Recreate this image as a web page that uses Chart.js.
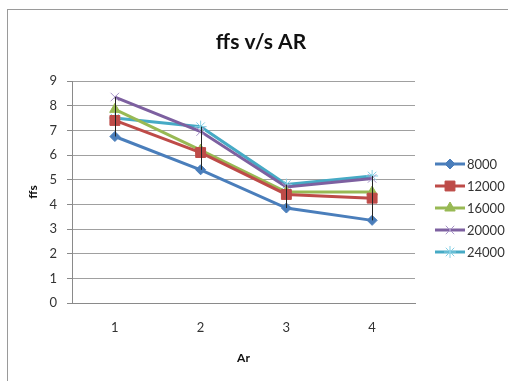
<!DOCTYPE html>
<html>
<head>
<meta charset="utf-8">
<script src="https://cdn.jsdelivr.net/npm/chart.js@4.4.1/dist/chart.umd.min.js"></script>
<style>
  html, body { margin: 0; padding: 0; background: #fff; }
  #wrap { width: 508px; height: 381px; position: relative; }
</style>
</head>
<body>
<div id="wrap"><canvas id="chart" width="508" height="381"></canvas></div>
<script>
// chart data
const categories = ['1', '2', '3', '4'];
const seriesNames = ['8000', '12000', '16000', '20000', '24000'];
const s8000 = [6.75, 5.4, 3.85, 3.35];
const s12000 = [7.4, 6.1, 4.4, 4.25];
const s16000 = [7.85, 6.2, 4.5, 4.5];
const s20000 = [8.35, 6.95, 4.7, 5.05];
const s24000 = [7.5, 7.15, 4.8, 5.15];
const yTicks = [0, 1, 2, 3, 4, 5, 6, 7, 8, 9];
const chartTitle = 'ffs v/s AR';

const FONT = 'Lato, "Open Sans", sans-serif';

const styles = [
  { color: '#4a7ebb', marker: '#4a7ebb', point: 'rectRot', r: 5, bw: 1 },
  { color: '#be4b48', marker: '#be4b48', point: 'rect', r: 7, bw: 1 },
  { color: '#98b954', marker: '#98b954', point: 'triangle', r: 6, bw: 1 },
  { color: '#7d60a0', marker: '#a794c8', point: 'crossRot', r: 6, bw: 1 },
  { color: '#46aac5', marker: '#84cfe4', point: 'star', r: 6, bw: 1 }
];
const values = [s8000, s12000, s16000, s20000, s24000];

const datasets = values.map((data, i) => ({
  label: seriesNames[i],
  data: data,
  borderColor: styles[i].color,
  backgroundColor: styles[i].marker,
  borderWidth: 3,
  pointStyle: styles[i].point,
  pointRadius: styles[i].r,
  pointBorderColor: styles[i].marker,
  pointBackgroundColor: styles[i].marker,
  pointBorderWidth: styles[i].bw,
  tension: 0
}));

// white background, outer frame and the title (centred on the whole frame)
const framePlugin = {
  id: 'frame',
  beforeDraw(chart) {
    const c = chart.ctx;
    c.save();
    c.fillStyle = '#fff';
    c.fillRect(0, 0, chart.width, chart.height);
    c.strokeStyle = '#9a9a9a';
    c.lineWidth = 1;
    c.strokeRect(7.5, 9.5, 600, 600);
    c.fillStyle = '#111';
    c.font = 'bold 21px ' + FONT;
    c.textAlign = 'center';
    c.textBaseline = 'middle';
    c.fillText(chartTitle, 261, 42);
    c.restore();
  }
};

// high-low lines from the lowest to the highest series value
const hiLoPlugin = {
  id: 'hiLo',
  afterDatasetsDraw(chart) {
    const c = chart.ctx;
    const x = chart.scales.x, y = chart.scales.y;
    c.save();
    c.strokeStyle = '#222';
    c.lineWidth = 1;
    categories.forEach((cat, j) => {
      const col = values.map(v => v[j]);
      const px = Math.round(x.getPixelForValue(j)) + 0.5;
      c.beginPath();
      c.moveTo(px, y.getPixelForValue(Math.max(...col)));
      c.lineTo(px, y.getPixelForValue(Math.min(...col)));
      c.stroke();
    });
    c.restore();
  }
};

// legend on the right: line with marker, then the label
const legendPlugin = {
  id: 'sideLegend',
  afterDraw(chart) {
    const c = chart.ctx;
    c.save();
    c.font = '13px ' + FONT;
    c.textBaseline = 'middle';
    c.textAlign = 'left';
    seriesNames.forEach((name, i) => {
      const yy = 164 + i * 22;
      c.strokeStyle = styles[i].color;
      c.lineWidth = 3;
      c.beginPath();
      c.moveTo(435, yy);
      c.lineTo(465, yy);
      c.stroke();
      c.fillStyle = styles[i].marker;
      c.strokeStyle = styles[i].marker;
      c.lineWidth = styles[i].bw;
      Chart.helpers.drawPoint(c, { pointStyle: styles[i].point, radius: styles[i].r, rotation: 0, borderWidth: styles[i].bw }, 450, yy);
      c.fillStyle = '#333';
      c.fillText(name, 467, yy + 1);
    });
    c.restore();
  }
};

new Chart(document.getElementById('chart'), {
  type: 'line',
  data: { labels: categories, datasets: datasets },
  plugins: [framePlugin, hiLoPlugin, legendPlugin],
  options: {
    responsive: false,
    animation: false,
    layout: { padding: { left: 10, right: 93, top: 81, bottom: 10 } },
    plugins: {
      legend: { display: false },
      tooltip: { enabled: false },
      title: { display: false }
    },
    scales: {
      x: {
        offset: true,
        grid: { display: false, drawTicks: false },
        border: { color: '#8a8a8a', width: 1 },
        ticks: { color: '#333', font: { family: FONT, size: 13 }, padding: 17 },
        title: {
          display: true, text: 'Ar', color: '#111',
          font: { family: FONT, size: 12, weight: 'bold' },
          padding: { top: 10, bottom: 6 }
        },
        afterFit(scale) { scale.height = 68; }
      },
      y: {
        min: 0,
        max: 9,
        afterBuildTicks(scale) { scale.ticks = yTicks.map(v => ({ value: v })); },
        grid: { color: '#a0a0a0', tickLength: 5, tickColor: '#8a8a8a' },
        border: { color: '#8a8a8a', width: 1 },
        ticks: { color: '#333', font: { family: FONT, size: 13 }, padding: 10 },
        title: {
          display: true, text: 'ffs', color: '#111',
          font: { family: FONT, size: 12, weight: 'bold' },
          padding: { top: 16, bottom: 0 }
        },
        afterFit(scale) { scale.width = 62; }
      }
    }
  }
});
</script>
</body>
</html>
